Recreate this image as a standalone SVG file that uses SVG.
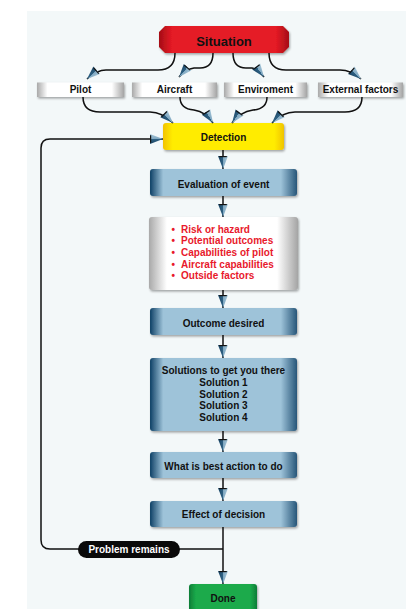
<svg xmlns="http://www.w3.org/2000/svg" width="406" height="609" viewBox="0 0 406 609">
<defs>
<linearGradient id="gBlue" x1="0" y1="0" x2="1" y2="0">
<stop offset="0" stop-color="#0f4166"/><stop offset="0.09" stop-color="#9ec3d9"/><stop offset="0.89" stop-color="#9ec3d9"/><stop offset="1" stop-color="#275679"/>
</linearGradient>
<linearGradient id="gGray" x1="0" y1="0" x2="1" y2="0">
<stop offset="0" stop-color="#a9a9a9"/><stop offset="0.12" stop-color="#ffffff"/><stop offset="0.86" stop-color="#ffffff"/><stop offset="1" stop-color="#a4a4a4"/>
</linearGradient>
<linearGradient id="gRed" x1="0" y1="0" x2="1" y2="0">
<stop offset="0" stop-color="#a50d16"/><stop offset="0.1" stop-color="#e51a25"/><stop offset="0.9" stop-color="#e51a25"/><stop offset="1" stop-color="#a50d16"/>
</linearGradient>
<linearGradient id="gYel" x1="0" y1="0" x2="1" y2="0">
<stop offset="0" stop-color="#f2c200"/><stop offset="0.08" stop-color="#ffec00"/><stop offset="0.92" stop-color="#ffec00"/><stop offset="1" stop-color="#f0c400"/>
</linearGradient>
<linearGradient id="gGreen" x1="0" y1="0" x2="1" y2="0">
<stop offset="0" stop-color="#0d7d37"/><stop offset="0.1" stop-color="#1aaa4b"/><stop offset="0.9" stop-color="#1aaa4b"/><stop offset="1" stop-color="#0d7d37"/>
</linearGradient>
<linearGradient id="gArrow" x1="0" y1="0" x2="0" y2="1">
<stop offset="0" stop-color="#a8c9dc"/><stop offset="0.5" stop-color="#7ea6bf"/><stop offset="0.5" stop-color="#2f6284"/><stop offset="1" stop-color="#1a4565"/>
</linearGradient>
<filter id="sh" x="-10%" y="-20%" width="130%" height="160%">
<feDropShadow dx="1" dy="1.5" stdDeviation="1" flood-color="#000" flood-opacity="0.35"/>
</filter>
<marker id="arr" markerUnits="userSpaceOnUse" markerWidth="15" markerHeight="11" refX="13" refY="5" orient="auto" overflow="visible">
<path d="M0,0 L13,5 L0,10 Z" fill="url(#gArrow)"/>
<path d="M0.6,1.2 V8.8" stroke="#111" stroke-width="1.2"/>
</marker>
<style>
.t{font-family:"Liberation Sans",Arial,sans-serif;font-weight:bold;font-size:10px;fill:#111;text-anchor:middle}
.r{font-family:"Liberation Sans",Arial,sans-serif;font-weight:bold;font-size:10px;fill:#e8192c}
.c{fill:none;stroke:#111;stroke-width:1.5;marker-end:url(#arr)}
.blue{fill:url(#gBlue);filter:url(#sh)}
.gray{fill:url(#gGray);filter:url(#sh)}
</style>
</defs>
<rect x="27" y="11" width="379" height="598" fill="#f3f8f9"/>

<g id="situation">
<polygon points="165,26 283,26 289,32 289,47 283,53 165,53 159,47 159,32" fill="url(#gRed)" filter="url(#sh)"/>
<text class="t" x="224" y="45.5" style="font-size:13px">Situation</text>
</g>
<g id="pilot"><rect class="gray" x="37" y="82.5" width="87" height="14.5"/><text class="t" x="80.5" y="93">Pilot</text></g>
<g id="aircraft"><rect class="gray" x="132" y="82.5" width="85" height="14.5"/><text class="t" x="174.5" y="93">Aircraft</text></g>
<g id="enviroment"><rect class="gray" x="224" y="82.5" width="83" height="14.5"/><text class="t" x="265.5" y="93">Enviroment</text></g>
<g id="external"><rect class="gray" x="318" y="82.5" width="85" height="14.5"/><text class="t" x="360.5" y="93">External factors</text></g>
<g id="detection"><rect x="163" y="123" width="121" height="27" rx="3" fill="url(#gYel)" filter="url(#sh)"/><text class="t" x="223.5" y="140.5">Detection</text></g>
<g id="evaluation"><rect class="blue" x="150" y="169" width="147" height="27" rx="3"/><text class="t" x="223.5" y="187.5">Evaluation of event</text></g>
<g id="factors">
<rect class="gray" x="149" y="217" width="149" height="73" rx="3"/>
<text class="r" x="171.5" y="232.5">•</text><text class="r" x="181" y="232.5">Risk or hazard</text>
<text class="r" x="171.5" y="244.2">•</text><text class="r" x="181" y="244.2">Potential outcomes</text>
<text class="r" x="171.5" y="255.9">•</text><text class="r" x="181" y="255.9">Capabilities of pilot</text>
<text class="r" x="171.5" y="267.6">•</text><text class="r" x="181" y="267.6">Aircraft capabilities</text>
<text class="r" x="171.5" y="279.3">•</text><text class="r" x="181" y="279.3">Outside factors</text>
</g>
<g id="outcome"><rect class="blue" x="150" y="308" width="147" height="27" rx="3"/><text class="t" x="223.5" y="326.5">Outcome desired</text></g>
<g id="solutions"><rect class="blue" x="150" y="358" width="147" height="73" rx="3"/>
<text class="t" x="223.5" y="374.3">Solutions to get you there</text>
<text class="t" x="223.5" y="386">Solution 1</text>
<text class="t" x="223.5" y="397.7">Solution 2</text>
<text class="t" x="223.5" y="409.4">Solution 3</text>
<text class="t" x="223.5" y="421.1">Solution 4</text>
</g>
<g id="best"><rect class="blue" x="150" y="452" width="147" height="26" rx="3"/><text class="t" x="223.5" y="469.5">What is best action to do</text></g>
<g id="effect"><rect class="blue" x="150" y="501" width="147" height="26" rx="3"/><text class="t" x="223.5" y="518">Effect of decision</text></g>
<g id="done"><rect x="189" y="584" width="68" height="30" rx="3" fill="url(#gGreen)" filter="url(#sh)"/><text class="t" x="223" y="601.5">Done</text></g>

<g id="connectors">
<path class="c" d="M175,53 Q175,70 158,70 L106,70 Q97,70 87,79"/>
<path class="c" d="M213,53 Q213,68 200,68 L194,68 Q186,69 179,77"/>
<path class="c" d="M233,53 Q233,68 246,68 L252,68 Q258,69 264,77"/>
<path class="c" d="M269,53 Q269,70 286,70 L340,70 Q351,70 361,79"/>
<path class="c" d="M83,97 Q83,112 100,112 L150,112 Q162,112 173,123"/>
<path class="c" d="M180,97 Q180,109 194,110 Q206,112 213,123"/>
<path class="c" d="M267,97 Q267,109 253,110 Q240,112 232,123"/>
<path class="c" d="M362,97 Q362,112 345,112 L295,112 Q283,112 272,123"/>
<path class="c" d="M223,150 V169"/>
<path class="c" d="M223,196 V217"/>
<path class="c" d="M223,290 V308"/>
<path class="c" d="M223,335 V358"/>
<path class="c" d="M223,431 V452"/>
<path class="c" d="M223,478 V501"/>
<path class="c" d="M223,527 V584"/>
<path class="c" d="M223,549 H50 Q41,549 41,540 V148 Q41,139 50,139 H163"/>
<g id="problem-remains">
<rect x="78" y="541" width="102" height="17" rx="8.5" fill="#0a0a0a"/>
<text class="t" x="129" y="553" style="fill:#fff">Problem remains</text>
</g>
</g>
</svg>
